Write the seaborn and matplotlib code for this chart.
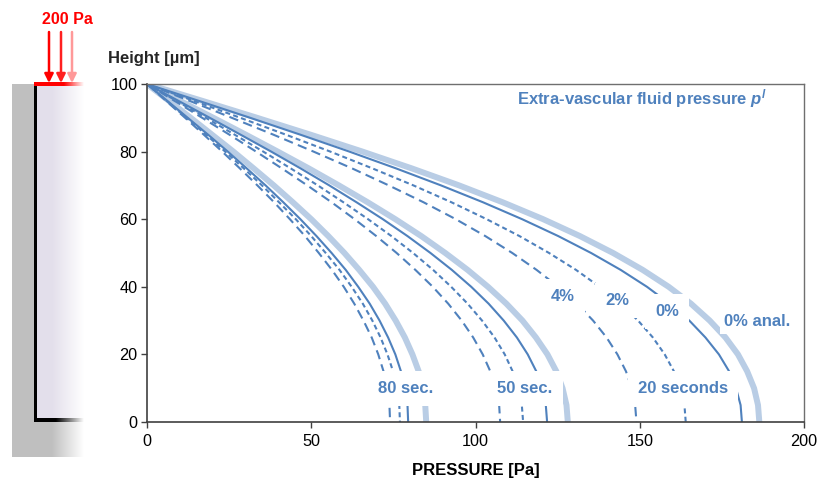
import numpy as np
import pandas as pd
import seaborn as sns
import matplotlib.pyplot as plt

# heights through the layer, top (drained) to bottom
heights = [100, 95, 90, 85, 80, 75, 70, 65, 60, 55, 50, 45, 40, 35, 30, 25, 20, 15, 10, 5, 0]

# extra-vascular fluid pressure [Pa], same order as heights
p20_anal = [0, 16.9, 33.5, 49.8, 65.6, 80.7, 95.0, 108.3, 120.6, 131.8, 141.9, 150.9, 158.8, 165.6, 171.3, 176.1, 179.9, 182.7, 184.8, 186.0, 186.4]
p20_0 = [0, 15.8, 31.4, 46.7, 61.6, 75.9, 89.5, 102.3, 114.2, 125.2, 135.2, 144.2, 152.2, 159.1, 165.1, 170.0, 174.1, 177.2, 179.3, 180.7, 181.1]
p20_2 = [0, 14.3, 28.4, 42.3, 55.8, 68.7, 81.1, 92.7, 103.4, 113.4, 122.4, 130.6, 137.8, 144.1, 149.5, 154.0, 157.6, 160.4, 162.4, 163.6, 164.0]
p20_4 = [0, 13.0, 25.8, 38.5, 50.7, 62.5, 73.6, 84.2, 94.0, 103.0, 111.2, 118.6, 125.2, 130.9, 135.8, 139.9, 143.2, 145.8, 147.6, 148.6, 149.0]

p50_anal = [0, 10.1, 20.2, 30.1, 39.8, 49.3, 58.4, 67.2, 75.6, 83.5, 90.8, 97.6, 103.8, 109.4, 114.3, 118.4, 121.9, 124.6, 126.5, 127.7, 128.1]
p50_0 = [0, 9.6, 19.1, 28.5, 37.8, 46.8, 55.5, 63.8, 71.8, 79.3, 86.3, 92.8, 98.7, 104.0, 108.6, 112.6, 115.9, 118.5, 120.3, 121.4, 121.8]
p50_2 = [0, 9.0, 17.9, 26.7, 35.4, 43.8, 52.0, 59.8, 67.3, 74.4, 81.0, 87.1, 92.6, 97.6, 102.0, 105.8, 108.9, 111.3, 113.1, 114.1, 114.5]
p50_4 = [0, 8.4, 16.8, 25.1, 33.2, 41.1, 48.8, 56.2, 63.2, 69.8, 76.0, 81.7, 87.0, 91.7, 95.8, 99.3, 102.2, 104.5, 106.2, 107.2, 107.5]

p80_anal = [0, 6.7, 13.3, 19.8, 26.3, 32.5, 38.6, 44.4, 50.0, 55.2, 60.1, 64.6, 68.8, 72.5, 75.7, 78.5, 80.8, 82.7, 84.0, 84.7, 85.0]
p80_0 = [0, 6.2, 12.4, 18.6, 24.6, 30.4, 36.1, 41.5, 46.7, 51.6, 56.2, 60.5, 64.3, 67.8, 70.8, 73.4, 75.6, 77.3, 78.5, 79.3, 79.5]
p80_2 = [0, 6.0, 12.0, 18.0, 23.8, 29.5, 35.0, 40.2, 45.3, 50.0, 54.4, 58.6, 62.3, 65.7, 68.6, 71.1, 73.2, 74.9, 76.1, 76.8, 77.0]
p80_4 = [0, 5.8, 11.6, 17.3, 22.9, 28.3, 33.6, 38.7, 43.5, 48.1, 52.3, 56.3, 59.9, 63.1, 65.9, 68.4, 70.4, 72.0, 73.1, 73.8, 74.0]

curves = {
    (20, '0% anal.'): p20_anal, (20, '0%'): p20_0, (20, '2%'): p20_2, (20, '4%'): p20_4,
    (50, '0% anal.'): p50_anal, (50, '0%'): p50_0, (50, '2%'): p50_2, (50, '4%'): p50_4,
    (80, '0% anal.'): p80_anal, (80, '0%'): p80_0, (80, '2%'): p80_2, (80, '4%'): p80_4,
}
df = pd.concat([
    pd.DataFrame({'pressure': vals, 'height': heights, 'time': t, 'case': case})
    for (t, case), vals in curves.items()
], ignore_index=True)

BLUE = '#4F81BD'
LIGHT = '#B9CDE5'

sns.set_theme(style='white')
plt.rcParams['font.family'] = ['Liberation Sans', 'DejaVu Sans']
plt.rcParams['mathtext.fontset'] = 'custom'
plt.rcParams['mathtext.it'] = 'Liberation Sans:italic:bold'
plt.rcParams['mathtext.rm'] = 'Liberation Sans:bold'

fig = plt.figure(figsize=(8.19, 4.82), dpi=100)

# --- sketch of the loaded layer on the left (pixel coordinates) ---
sk = fig.add_axes([0, 0, 1, 1], zorder=-1)
sk.set_xlim(0, 819)
sk.set_ylim(482, 0)
sk.axis('off')

W, H = 100, 482
img = np.ones((H, W, 4))
img[..., 3] = 0
xs = np.arange(W) + 0.5

def fade(x0, x1):
    return np.clip((x1 - xs) / (x1 - x0), 0, 1)

def paint(y0, y1, x0, x1, rgb, alpha):
    img[y0:y1, x0:x1, :3] = rgb
    img[y0:y1, x0:x1, 3] = alpha[x0:x1]

ones = np.ones(W)
paint(84, 457, 12, 35, (0.75, 0.75, 0.75), ones)
paint(421, 457, 35, W, (0.75, 0.75, 0.75), fade(52, 84))
paint(85, 420, 37, W, (0.894, 0.875, 0.925), fade(52, 84))
paint(418, 422, 34, W, (0, 0, 0), fade(56, 84))
paint(83, 421, 34, 37, (0, 0, 0), ones)
paint(82, 86, 34, W, (1, 0, 0), fade(64, 84))
sk.imshow(img, extent=(0, W, H, 0), interpolation='bilinear', aspect='auto')

for xa, col in [(49, '#FF0000'), (61, '#FF2020'), (72, '#FF9999')]:
    sk.annotate('', xy=(xa, 83), xytext=(xa, 32),
                arrowprops=dict(arrowstyle='-|>', color=col, lw=1.8, mutation_scale=13,
                                shrinkA=0, shrinkB=0))
sk.text(67, 20, '200 Pa', color='#FF0000', fontsize=11.5, fontweight='bold',
        ha='center', va='center')

# --- main chart ---
ax = fig.add_axes([147 / 819, 60 / 482, 657 / 819, 338 / 482])

anal = df[df['case'] == '0% anal.']
sns.lineplot(data=anal, x='pressure', y='height', units='time', estimator=None,
             sort=False, color=LIGHT, lw=4.3, ax=ax, legend=False)

num = df[df['case'] != '0% anal.']
sns.lineplot(data=num, x='pressure', y='height', units='time', style='case',
             style_order=['0%', '2%', '4%'],
             dashes={'0%': '', '2%': (2.4, 1.6), '4%': (4.5, 2.6)},
             estimator=None, sort=False, color=BLUE, lw=1.5, ax=ax, legend=False)

ax.set_xlim(0, 200)
ax.set_ylim(0, 100)
ax.set_xticks([0, 50, 100, 150, 200])
ax.set_yticks([0, 20, 40, 60, 80, 100])
ax.tick_params(axis='both', direction='out', length=4, width=1, color='#404040',
               labelsize=11.7, labelcolor='black', pad=3)
ax.tick_params(axis='x', pad=5)
ax.tick_params(bottom=True, left=True)
for side in ['left', 'bottom']:
    ax.spines[side].set_color('#404040')
    ax.spines[side].set_linewidth(1.2)
for side in ['top', 'right']:
    ax.spines[side].set_visible(True)
    ax.spines[side].set_color('#6F6F6F')
    ax.spines[side].set_linewidth(1.0)
for sp in ax.spines.values():
    sp.set_zorder(10)

ax.set_xlabel('PRESSURE [Pa]', fontsize=12, fontweight='bold', labelpad=10, color='black')
ax.set_ylabel('')
fig.text(108 / 819, 1 - 58 / 482, 'Height [µm]', fontsize=12, fontweight='bold',
         ha='left', va='center')

labels = [
    ('4%', 126.6, 37.0, 0.6), ('2%', 143.1, 35.8, 0.6), ('0%', 158.3, 32.8, 0.6),
    ('0% anal.', 185.7, 29.6, 0.25),
    ('80 sec.', 78.8, 9.8, 0.6), ('50 sec.', 115.1, 9.8, 0.6), ('20 seconds', 163.2, 9.8, 0.6),
]
for txt, x, y, pad in labels:
    ax.text(x, y, txt, color=BLUE, fontsize=12, fontweight='bold',
            ha='center', va='center', zorder=5,
            bbox=dict(boxstyle=f'square,pad={pad}', facecolor='white', edgecolor='none'))

ax.text(188.7, 95.6, 'Extra-vascular fluid pressure $p^l$', color=BLUE, fontsize=12,
        fontweight='bold', ha='right', va='center')

fig.savefig('out.png', dpi=100)
